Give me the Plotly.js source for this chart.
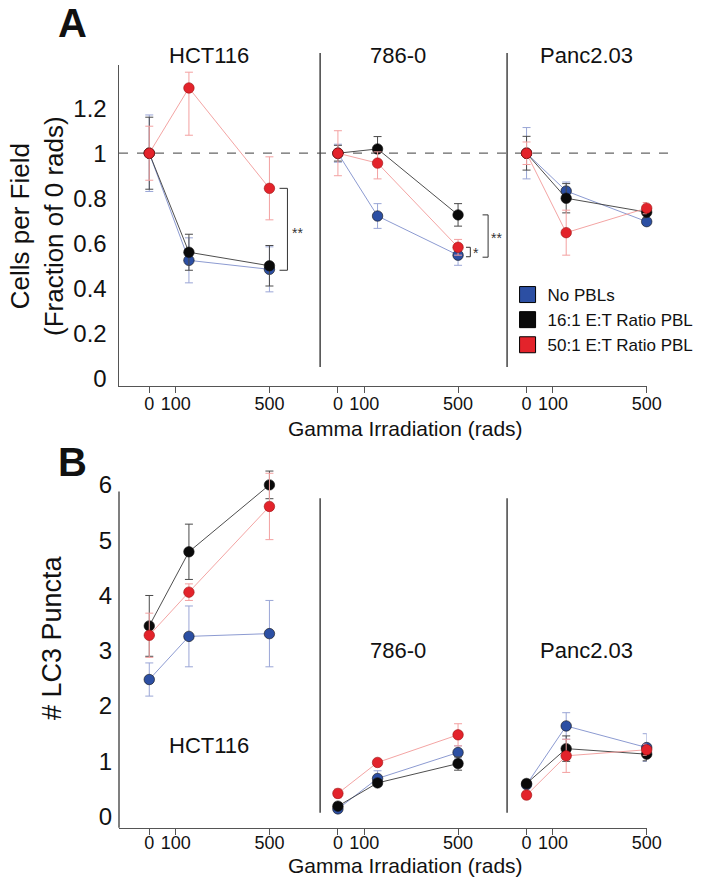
<!DOCTYPE html>
<html><head><meta charset="utf-8">
<script src="https://cdn.plot.ly/plotly-3.0.1.min.js"></script>
<style>html,body{margin:0;padding:0;background:#fff}</style>
</head><body><div id="chart" style="width:703px;height:890px"></div>
<script>
// ---------- data ----------
const cellLines = ['HCT116', '786-0', 'Panc2.03'];
const seriesNames = ['No PBLs', '16:1 E:T Ratio PBL', '50:1 E:T Ratio PBL'];
const doses = [0, 165, 500];
const tickDoses = [0, 110, 500];
const tickLabels = ['0', '100', '500'];
const yTicksA = [0, 0.2, 0.4, 0.6, 0.8, 1, 1.2];
const yTicksB = [0, 1, 2, 3, 4, 5, 6];

// Panel A: Cells per Field (fraction of 0 rads), per cell line [0, mid, 500]
const aNoPBL      = [[1.0, 0.524, 0.484], [1.0, 0.721, 0.547], [1.0, 0.832, 0.696]];
const aNoPBLErr   = [[0.17, 0.10, 0.10], [0.04, 0.055, 0.045], [0.114, 0.04, 0.015]];
const a16         = [[1.0, 0.56, 0.50], [1.0, 1.019, 0.726], [1.0, 0.80, 0.738]];
const a16Err      = [[0.16, 0.08, 0.09], [0.035, 0.055, 0.05], [0.075, 0.065, 0.025]];
const a50         = [[1.0, 1.29, 0.844], [1.0, 0.956, 0.582], [1.0, 0.647, 0.756]];
const a50ErrUp    = [[0.12, 0.07, 0.14], [0.10, 0.05, 0.035], [0.05, 0.10, 0.025]];
const a50ErrDown  = [[0.12, 0.21, 0.14], [0.10, 0.07, 0.035], [0.05, 0.10, 0.025]];

// Panel B: # LC3 Puncta
const bNoPBL    = [[2.48, 3.26, 3.31], [0.14, 0.69, 1.16], [0.58, 1.64, 1.25]];
const bNoPBLErr = [[0.30, 0.55, 0.60], [0.06, 0.14, 0.12], [0.06, 0.24, 0.25]];
const b16       = [[3.45, 4.79, 6.0], [0.19, 0.61, 0.96], [0.60, 1.23, 1.13]];
const b16Err    = [[0.55, 0.50, 0.25], [0.06, 0.05, 0.12], [0.06, 0.23, 0.12]];
const b50       = [[3.28, 4.06, 5.61], [0.42, 0.98, 1.48], [0.39, 1.10, 1.21]];
const b50Err    = [[0.40, 0.15, 0.60], [0.08, 0.03, 0.20], [0.07, 0.30, 0.10]];

// ---------- styling / layout helpers ----------
const FONT = 'Liberation Sans, Arial, sans-serif';
const groupOffset = [0, 785, 1570];
const markerCol = ['#2c4fa3', '#0a0a0a', '#e3232b'];
const lineCol = ['#7f8fcc', '#3a3a3a', '#f29a98'];
const errCol = ['#9aa6d6', '#4a4a4a', '#f3a0a0'];
const xDom = [119 / 703, 646.7 / 703];
const xRange = [-126, 2070];
const yDomA = [1 - 385.7 / 890, 1 - 65 / 890];
const yRangeA = [-0.033, 1.392];
const yDomB = [1 - 827.7 / 890, 1 - 468.3 / 890];
const yRangeB = [-0.2, 6.3];

function py(dom, rng, v) { return dom[0] + (v - rng[0]) / (rng[1] - rng[0]) * (dom[1] - dom[0]); }
function px(v) { return xDom[0] + (v - xRange[0]) / (xRange[1] - xRange[0]) * (xDom[1] - xDom[0]); }

const traces = [];
function addSeries(vals, up, down, s, xa, ya) {
  for (let g = 0; g < 3; g++) {
    traces.push({
      type: 'scatter', mode: 'lines+markers', xaxis: xa, yaxis: ya, showlegend: false,
      x: doses.map(d => d + groupOffset[g]), y: vals[g],
      line: { color: lineCol[s], width: 0.9 },
      marker: { color: markerCol[s], size: 10.5, line: { color: s === 2 ? '#9a1010' : '#111', width: 0.6 } },
      error_y: { type: 'data', symmetric: false, array: up[g], arrayminus: down[g], color: errCol[s], thickness: 1, width: 4 },
      cliponaxis: false
    });
  }
}
addSeries(aNoPBL, aNoPBLErr, aNoPBLErr, 0, 'x', 'y');
addSeries(a16, a16Err, a16Err, 1, 'x', 'y');
addSeries(a50, a50ErrUp, a50ErrDown, 2, 'x', 'y');
addSeries(bNoPBL, bNoPBLErr, bNoPBLErr, 0, 'x2', 'y2');
addSeries(b16, b16Err, b16Err, 1, 'x2', 'y2');
addSeries(b50, b50Err, b50Err, 2, 'x2', 'y2');

// legend entries
seriesNames.forEach((n, s) => traces.push({
  type: 'scatter', mode: 'markers', x: [null], y: [null], name: n, showlegend: true,
  marker: { symbol: 'square', size: 16, color: markerCol[s], line: { color: '#000', width: 1 } }
}));

const tickVals = [], tickText = [];
groupOffset.forEach(o => tickDoses.forEach((d, i) => { tickVals.push(o + d); tickText.push(tickLabels[i]); }));

function xAxis(anchor, standoff) {
  return {
    domain: xDom, range: xRange, anchor: anchor, showgrid: false, zeroline: false,
    showline: true, linecolor: '#555', linewidth: 1.5,
    ticks: 'outside', ticklen: 6, tickwidth: 1, tickcolor: '#555', ticklabelstandoff: standoff,
    tickvals: tickVals, ticktext: tickText,
    tickfont: { family: FONT, size: 18, color: '#111' }
  };
}

const sepX = [711, 1489];
const shapes = [];
// separators
sepX.forEach(x => {
  shapes.push({ type: 'line', xref: 'paper', yref: 'paper', x0: px(x), x1: px(x),
    y0: 1 - 367 / 890, y1: 1 - 53 / 890, line: { color: '#444', width: 1.5 } });
  shapes.push({ type: 'line', xref: 'paper', yref: 'paper', x0: px(x), x1: px(x),
    y0: py(yDomB, yRangeB, 0.07), y1: py(yDomB, yRangeB, 5.76), line: { color: '#444', width: 1.5 } });
});
// dashed reference line at 1
shapes.push({ type: 'line', xref: 'paper', yref: 'paper', x0: xDom[0], x1: 675 / 703,
  y0: py(yDomA, yRangeA, 1), y1: py(yDomA, yRangeA, 1), line: { color: '#666', width: 1.2, dash: 'dash' }, layer: 'below' });
// panel B y-axis line
shapes.push({ type: 'line', xref: 'paper', yref: 'paper', x0: xDom[0], x1: xDom[0],
  y0: yDomB[0], y1: py(yDomB, yRangeB, 5.88), line: { color: '#555', width: 1.5 } });
// significance brackets
function bracket(x0, x1, y0, y1) {
  shapes.push({ type: 'path', xref: 'x', yref: 'y', path: `M ${x0},${y0} H ${x1} V ${y1} H ${x0}`,
    line: { color: '#333', width: 1 } });
}
bracket(542, 575, 0.844, 0.48);
bracket(785 + 533, 785 + 551, 0.582, 0.54);
bracket(785 + 602, 785 + 625, 0.726, 0.538);

function ann(o) { return Object.assign({ showarrow: false, xanchor: 'center', yanchor: 'middle' }, o); }
const annotations = [
  ann({ text: '<b>A</b>', xref: 'paper', yref: 'paper', x: 72 / 703, y: 1 - 23 / 890, font: { family: FONT, size: 40, color: '#111' } }),
  ann({ text: '<b>B</b>', xref: 'paper', yref: 'paper', x: 72 / 703, y: 1 - 462 / 890, font: { family: FONT, size: 40, color: '#111' } }),
  ann({ text: 'Cells per Field<br>(Fraction of 0 rads)', xref: 'paper', yref: 'paper', x: 37 / 703, y: 1 - 226 / 890, textangle: -90, font: { family: FONT, size: 26, color: '#111' } }),
  ann({ text: '# LC3 Puncta', xref: 'paper', yref: 'paper', x: 52 / 703, y: 1 - 638 / 890, textangle: -90, font: { family: FONT, size: 27, color: '#111' } }),
  ann({ text: 'Gamma Irradiation (rads)', xref: 'paper', yref: 'paper', x: 405 / 703, y: 1 - 428 / 890, font: { family: FONT, size: 21, color: '#111' } }),
  ann({ text: 'Gamma Irradiation (rads)', xref: 'paper', yref: 'paper', x: 405 / 703, y: 1 - 865 / 890, font: { family: FONT, size: 21, color: '#111' } }),
  ann({ text: '**', xref: 'x', yref: 'y', x: 618, y: 0.646, font: { family: FONT, size: 14, color: '#333' } }),
  ann({ text: '*', xref: 'x', yref: 'y', x: 785 + 575, y: 0.557, font: { family: FONT, size: 14, color: '#333' } }),
  ann({ text: '**', xref: 'x', yref: 'y', x: 785 + 661, y: 0.624, font: { family: FONT, size: 14, color: '#333' } })
];
cellLines.forEach((c, g) => {
  annotations.push(ann({ text: c, xref: 'x', yref: 'paper', x: groupOffset[g] + 250, y: 1 - 55 / 890,
    font: { family: FONT, size: 22, color: '#111' } }));
});
const bLabelY = [1.28, 3.01, 3.01];
cellLines.forEach((c, g) => {
  annotations.push(ann({ text: c, xref: 'x2', yref: 'y2', x: groupOffset[g] + 250, y: bLabelY[g],
    font: { family: FONT, size: 22, color: '#111' } }));
});

const layout = {
  width: 703, height: 890, margin: { l: 0, r: 0, t: 0, b: 0 },
  paper_bgcolor: '#fff', plot_bgcolor: 'rgba(0,0,0,0)',
  font: { family: FONT, color: '#111' },
  xaxis: xAxis('y', -5),
  xaxis2: xAxis('y2', -8),
  yaxis: {
    domain: yDomA, range: yRangeA, anchor: 'x', showgrid: false, zeroline: false,
    showline: true, linecolor: '#555', linewidth: 1.5, ticks: '', ticklabelstandoff: 6,
    tickvals: yTicksA, ticktext: yTicksA.map(String), tickfont: { family: FONT, size: 24, color: '#111' }
  },
  yaxis2: {
    domain: yDomB, range: yRangeB, anchor: 'x2', showgrid: false, zeroline: false,
    showline: false, ticks: '', ticklabelstandoff: 6,
    tickvals: yTicksB, ticktext: yTicksB.map(String), tickfont: { family: FONT, size: 24, color: '#111' }
  },
  showlegend: true,
  legend: { x: 0.722, y: 1 - 277 / 890, xanchor: 'left', yanchor: 'top', bgcolor: 'rgba(0,0,0,0)',
    font: { family: FONT, size: 17, color: '#111' }, itemclick: false },
  shapes: shapes, annotations: annotations
};

Plotly.newPlot('chart', traces, layout, { displayModeBar: false, staticPlot: true });
</script></body></html>
